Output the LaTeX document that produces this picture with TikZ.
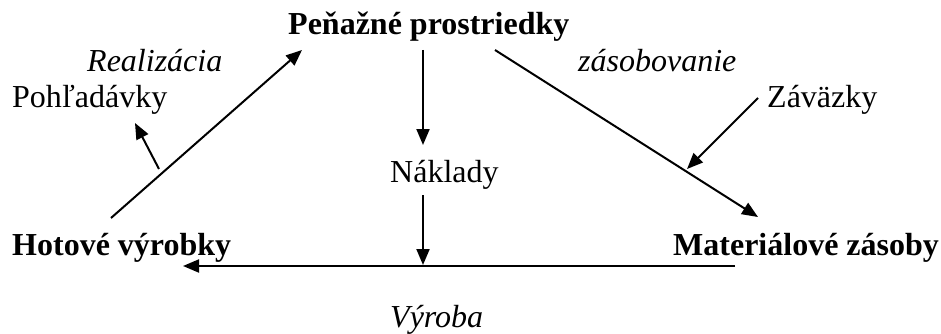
\documentclass[tikz,border=0pt]{standalone}
\usepackage{fontspec}
\setmainfont{Liberation Serif}
\usetikzlibrary{arrows.meta}
\begin{document}
\begin{tikzpicture}[x=1pt,y=-1pt,
  lbl/.style={inner sep=0pt,anchor=base west,font=\fontsize{32}{36}\selectfont},
  key/.style={lbl,font=\fontsize{32}{36}\selectfont\bfseries},
  flow/.style={lbl,font=\fontsize{32}{36}\selectfont\itshape},
  conn/.style={line width=2pt,-{Triangle[length=16pt,width=13pt]}}]
\useasboundingbox (0,0) rectangle (941,334);

% account names
\node[key]  (cash)  at (288,35)  {Peňažné prostriedky};
\node[key]  (goods) at (12,255)  {Hotové výrobky};
\node[key]  (stock) at (673,255) {Materiálové zásoby};
\node[lbl]  (recv)  at (12,108)  {Pohľadávky};
\node[lbl]  (debt)  at (767,108) {Záväzky};
\node[lbl]  (cost)  at (390,182) {Náklady};

% flow names
\node[flow] (real)  at (87,72)   {Realizácia};
\node[flow] (supp)  at (578,72)  {zásobovanie};
\node[flow] (prod)  at (390,327) {Výroba};

% connector end points
\coordinate (g1) at (111,218);
\coordinate (c1) at (302,50);
\coordinate (r0) at (159,169);
\coordinate (r1) at (135,123);
\coordinate (c2) at (423,50);
\coordinate (k1) at (423,145);
\coordinate (k2) at (423,195);
\coordinate (k3) at (423,265);
\coordinate (c3) at (495,50);
\coordinate (s1) at (758,217);
\coordinate (d0) at (758,98);
\coordinate (d1) at (687,169);
\coordinate (s2) at (735,266);
\coordinate (g2) at (183,266);

% flows
\draw[conn] (g1) -- (c1);
\draw[conn] (r0) -- (r1);
\draw[conn] (c2) -- (k1);
\draw[conn] (k2) -- (k3);
\draw[conn] (c3) -- (s1);
\draw[conn] (d0) -- (d1);
\draw[conn] (s2) -- (g2);
\end{tikzpicture}
\end{document}
